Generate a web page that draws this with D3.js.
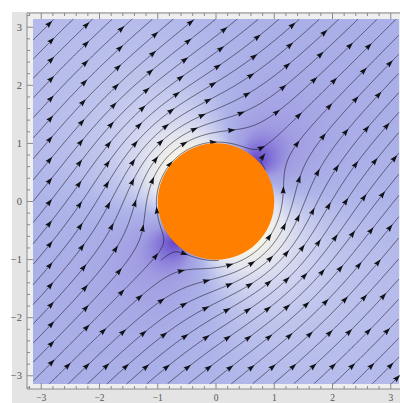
<!DOCTYPE html>
<html>
<head>
<meta charset="utf-8">
<script src="https://cdn.jsdelivr.net/npm/d3@7"></script>
<style>
  html, body { margin: 0; padding: 0; background: #ffffff; }
  svg { display: block; }
</style>
</head>
<body>
<svg id="chart" width="400" height="403"></svg>
<script>
// Potential flow past a circular cylinder: uniform stream at 45°, no circulation.
// Background shows the flow speed, lines are streamlines with arrowheads.
const plotRange = [-Math.PI, Math.PI];
const flowAngleDeg = [45];
const cylinderCenter = [0, 0];
const cylinderRadius = [1];
const streamSpeed = [1];
const majorTicks = [-3, -2, -1, 0, 1, 2, 3];
const tickLabels = ["\u22123", "\u22122", "\u22121", "0", "1", "2", "3"];
const minorStep = 0.2;
const speedStops = [0, 0.35, 0.65, 1, 1.25, 1.5, 2];
const speedColors = ["#6442c6", "#7f6ed6", "#a09ce2", "#aeb4e9", "#cbcfef", "#e2e4ef", "#faf7e6"];

const svg = d3.select("#chart");
const x = d3.scaleLinear().domain(plotRange).range([33, 399]);
const y = d3.scaleLinear().domain(plotRange).range([384, 19]);

// page background and frame panel
svg.append("rect").attr("x", 12).attr("y", 12).attr("width", 388).attr("height", 391).attr("fill", "#e4e4e4");
svg.append("rect").attr("x", 27).attr("y", 13).attr("width", 380).attr("height", 376).attr("fill", "#efefef");

// velocity field
const alpha = flowAngleDeg[0] * Math.PI / 180;
const ca = Math.cos(alpha), sa = Math.sin(alpha);
const R = cylinderRadius[0], U = streamSpeed[0];
function velocity(px, py) {
  const X = px - cylinderCenter[0], Y = py - cylinderCenter[1];
  const r2 = X * X + Y * Y, r4 = r2 * r2;
  const zr = X * X - Y * Y, zi = 2 * X * Y;
  const ir = zr / r4, ii = -zi / r4;
  const pr = ca * ir - sa * ii, pi = ca * ii + sa * ir;
  const a2 = R * R;
  return [U * (ca - a2 * pr), U * (sa + a2 * pi)];
}

// speed density image
const colorScale = d3.scaleLinear().domain(speedStops).range(speedColors)
  .interpolate(d3.interpolateRgb).clamp(true);
const lut = d3.range(513).map(k => d3.rgb(colorScale(k / 256)));
const x0 = x.range()[0], x1 = x.range()[1], y0 = y.range()[1], y1 = y.range()[0];
const W = Math.round(x1 - x0), H = Math.round(y1 - y0);
const canvas = document.createElement("canvas");
canvas.width = W; canvas.height = H;
const ctx = canvas.getContext("2d");
const img = ctx.createImageData(W, H);
for (let j = 0; j < H; j++) {
  const dy = y.invert(y0 + j + 0.5);
  for (let i = 0; i < W; i++) {
    const dx = x.invert(x0 + i + 0.5);
    const v = velocity(dx, dy);
    let sp = Math.hypot(v[0], v[1]);
    if (!isFinite(sp)) sp = 2;
    const c = lut[Math.min(512, Math.round(sp * 256))];
    const o = (j * W + i) * 4;
    img.data[o] = c.r; img.data[o + 1] = c.g; img.data[o + 2] = c.b; img.data[o + 3] = 255;
  }
}
ctx.putImageData(img, 0, 0);
svg.append("image").attr("x", x0).attr("y", y0).attr("width", W).attr("height", H)
  .attr("preserveAspectRatio", "none").attr("href", canvas.toDataURL());

// evenly spaced streamlines
const dsep = 0.23, dtest = 0.5 * dsep, h = 0.012;
const lo = plotRange[0], hi = plotRange[1];
const grid = new Map();
function cellKey(i, j) { return i + j * 1000; }
function addPoint(p) {
  const i = Math.floor((p[0] - lo) / dsep), j = Math.floor((p[1] - lo) / dsep);
  const k = cellKey(i, j);
  if (!grid.has(k)) grid.set(k, []);
  grid.get(k).push(p);
}
function nearest(p) {
  const i = Math.floor((p[0] - lo) / dsep), j = Math.floor((p[1] - lo) / dsep);
  let best = Infinity;
  for (let a = -1; a <= 1; a++) for (let b = -1; b <= 1; b++) {
    const arr = grid.get(cellKey(i + a, j + b));
    if (!arr) continue;
    for (const q of arr) {
      const d = Math.hypot(q[0] - p[0], q[1] - p[1]);
      if (d < best) best = d;
    }
  }
  return best;
}
function inside(p) {
  return p[0] >= lo && p[0] <= hi && p[1] >= lo && p[1] <= hi &&
    Math.hypot(p[0] - cylinderCenter[0], p[1] - cylinderCenter[1]) > R * 1.01;
}
function dir(p, sign) {
  const v = velocity(p[0], p[1]);
  const m = Math.hypot(v[0], v[1]);
  if (!(m > 1e-4)) return null;
  return [sign * v[0] / m, sign * v[1] / m];
}
function integrate(seed, sign) {
  const out = [];
  let p = seed;
  for (let n = 0; n < 3000; n++) {
    const k1 = dir(p, sign); if (!k1) break;
    const k2 = dir([p[0] + h / 2 * k1[0], p[1] + h / 2 * k1[1]], sign); if (!k2) break;
    const k3 = dir([p[0] + h / 2 * k2[0], p[1] + h / 2 * k2[1]], sign); if (!k3) break;
    const k4 = dir([p[0] + h * k3[0], p[1] + h * k3[1]], sign); if (!k4) break;
    const q = [p[0] + h / 6 * (k1[0] + 2 * k2[0] + 2 * k3[0] + k4[0]),
               p[1] + h / 6 * (k1[1] + 2 * k2[1] + 2 * k3[1] + k4[1])];
    if (!inside(q) || nearest(q) < dtest) break;
    // stop at a stagnation point where the direction flips
    if (k1[0] * k4[0] + k1[1] * k4[1] < 0) break;
    out.push(q);
    p = q;
  }
  return out;
}
const lines = [];
const queue = [];
function tryLine(seed) {
  if (!inside(seed) || nearest(seed) < dsep) return;
  const fwd = integrate(seed, 1);
  const bwd = integrate(seed, -1);
  const pts = bwd.reverse().concat([seed], fwd);
  if (pts.length * h < 0.12) return;
  pts.forEach(addPoint);
  lines.push(pts);
  queue.push(pts);
}
function drain() {
  while (queue.length) {
    const pts = queue.shift();
    for (let k = 0; k < pts.length; k += 3) {
      const a = pts[Math.max(0, k - 1)], b = pts[Math.min(pts.length - 1, k + 1)];
      let tx = b[0] - a[0], ty = b[1] - a[1];
      const m = Math.hypot(tx, ty) || 1;
      tx /= m; ty /= m;
      const p = pts[k];
      tryLine([p[0] - ty * dsep, p[1] + tx * dsep]);
      tryLine([p[0] + ty * dsep, p[1] - tx * dsep]);
    }
  }
}
tryLine([-2.0, 2.0]);
drain();
for (let gy = lo + 0.05; gy < hi; gy += dsep / 2) {
  for (let gx = lo + 0.05; gx < hi; gx += dsep / 2) {
    tryLine([gx, gy]);
    drain();
  }
}

const lineGen = d3.line().x(d => x(d[0])).y(d => y(d[1]));
svg.append("g").selectAll("path").data(lines).join("path")
  .attr("d", lineGen)
  .attr("fill", "none")
  .attr("stroke", "#1c1c2a")
  .attr("stroke-width", 0.75)
  .attr("stroke-opacity", 0.85);

// arrowheads along each streamline
const arrowGap = 0.85, arrowStart = 0.45;
const arrows = [];
lines.forEach(pts => {
  const cum = [0];
  for (let k = 1; k < pts.length; k++)
    cum.push(cum[k - 1] + Math.hypot(pts[k][0] - pts[k - 1][0], pts[k][1] - pts[k - 1][1]));
  const L = cum[cum.length - 1];
  const targets = [];
  if (L < arrowStart + 0.1) targets.push(L * 0.8);
  else for (let s = arrowStart; s < L - 0.05; s += arrowGap) targets.push(s);
  let k = 0;
  targets.forEach(s => {
    while (k < cum.length - 2 && cum[k + 1] < s) k++;
    const a = pts[Math.max(0, k - 1)], b = pts[Math.min(pts.length - 1, k + 2)];
    const ang = Math.atan2(y(b[1]) - y(a[1]), x(b[0]) - x(a[0])) * 180 / Math.PI;
    arrows.push({ p: pts[k], ang });
  });
});
svg.append("g").selectAll("path").data(arrows).join("path")
  .attr("d", "M4.2,0L-3.4,-2.6L-2.4,0L-3.4,2.6Z")
  .attr("transform", d => `translate(${x(d.p[0])},${y(d.p[1])}) rotate(${d.ang})`)
  .attr("fill", "#111118");

// the cylinder
svg.append("circle")
  .attr("cx", x(cylinderCenter[0])).attr("cy", y(cylinderCenter[1]))
  .attr("r", x(R) - x(0))
  .attr("fill", "#ff8000");

// frame axes
const axisColor = "#8a8a8a";
const frameL = 27, frameT = 13, frameB = 389, frameR = 405;
const axes = svg.append("g").attr("stroke", axisColor).attr("stroke-width", 1).attr("fill", "none");
axes.append("line").attr("x1", frameL).attr("x2", frameL).attr("y1", frameT).attr("y2", frameB);
axes.append("line").attr("x1", frameL).attr("x2", frameR).attr("y1", frameT).attr("y2", frameT);
axes.append("line").attr("x1", frameL).attr("x2", frameR).attr("y1", frameB).attr("y2", frameB);

const minorTicks = d3.range(-16, 17).map(k => k * minorStep).filter(v => Math.abs(v - Math.round(v)) > 1e-6);
// left axis
axes.selectAll(".ly").data(majorTicks).join("line")
  .attr("x1", frameL).attr("x2", frameL + 6).attr("y1", d => y(d)).attr("y2", d => y(d));
axes.selectAll(".lym").data(minorTicks).join("line")
  .attr("x1", frameL).attr("x2", frameL + 3).attr("y1", d => y(d)).attr("y2", d => y(d));
// top axis
axes.selectAll(".tx").data(majorTicks).join("line")
  .attr("y1", frameT).attr("y2", frameT + 6).attr("x1", d => x(d)).attr("x2", d => x(d));
axes.selectAll(".txm").data(minorTicks).join("line")
  .attr("y1", frameT).attr("y2", frameT + 3).attr("x1", d => x(d)).attr("x2", d => x(d));
// bottom axis
axes.selectAll(".bx").data(majorTicks).join("line")
  .attr("y1", frameB).attr("y2", frameB - 6).attr("x1", d => x(d)).attr("x2", d => x(d));
axes.selectAll(".bxm").data(minorTicks).join("line")
  .attr("y1", frameB).attr("y2", frameB - 3).attr("x1", d => x(d)).attr("x2", d => x(d));

const labelFont = "'Liberation Serif', 'DejaVu Serif', serif";
svg.append("g").selectAll("text").data(majorTicks).join("text")
  .attr("x", 22).attr("y", d => y(d) + 3.5)
  .attr("text-anchor", "end")
  .attr("font-family", labelFont).attr("font-size", 10.5).attr("fill", "#555")
  .text((d, i) => tickLabels[i]);
svg.append("g").selectAll("text").data(majorTicks).join("text")
  .attr("x", d => x(d)).attr("y", 400.5)
  .attr("text-anchor", "middle")
  .attr("font-family", labelFont).attr("font-size", 9.5).attr("fill", "#555")
  .text((d, i) => tickLabels[i]);
</script>
</body>
</html>
